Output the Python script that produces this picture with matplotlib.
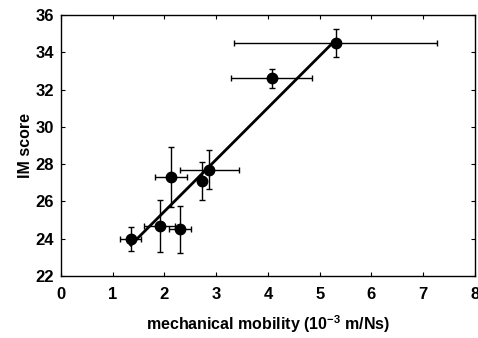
import matplotlib
matplotlib.use('Agg')
import matplotlib.pyplot as plt

# data
mobility = [1.35, 1.91, 2.30, 2.13, 2.72, 2.87, 4.07, 5.31]
mobility_err = [0.20, 0.30, 0.22, 0.31, 0.0, 0.57, 0.79, 1.96]
im_score = [24.0, 24.7, 24.5, 27.3, 27.1, 27.7, 32.6, 34.5]
im_err = [0.65, 1.4, 1.25, 1.6, 1.0, 1.05, 0.53, 0.75]

# regression line (slope, intercept) and its x extent
fit_slope = 2.78
fit_intercept = 19.91
fit_x = [1.35, 5.31]

plt.rcParams['font.family'] = ['Liberation Sans', 'DejaVu Sans']
plt.rcParams['font.weight'] = 'bold'
plt.rcParams['mathtext.default'] = 'bf'
plt.rcParams['mathtext.fontset'] = 'custom'
plt.rcParams['mathtext.bf'] = 'Liberation Sans:bold'

fig = plt.figure(figsize=(4.78, 3.38), dpi=100)
ax = fig.add_axes([0.1276, 0.1834, 0.866, 0.772])

ax.errorbar(mobility, im_score, xerr=mobility_err, yerr=im_err, fmt='o',
            color='black', markersize=7.5, elinewidth=1.0, capsize=2.5,
            capthick=1.0, zorder=3)
fit_y = [fit_slope * x + fit_intercept for x in fit_x]
ax.plot(fit_x, fit_y, color='black', linewidth=2.0, zorder=2)

ax.set_xlim(0, 8)
ax.set_ylim(22, 36)
ax.set_xticks(range(0, 9))
ax.set_yticks(range(22, 37, 2))
ax.tick_params(direction='in', top=True, right=True, length=3, width=0.8,
               labelsize=12)
ax.tick_params(axis='x', pad=8)
ax.tick_params(axis='y', pad=5)
for lab in ax.get_xticklabels() + ax.get_yticklabels():
    lab.set_fontweight('bold')
for s in ax.spines.values():
    s.set_linewidth(1.0)

ax.set_xlabel('mechanical mobility (10$^{-3}$ m/Ns)', fontsize=11.5,
              fontweight='bold', labelpad=8)
ax.set_ylabel('IM score', fontsize=11.5, fontweight='bold', labelpad=2)

fig.savefig('out.png', dpi=100)
